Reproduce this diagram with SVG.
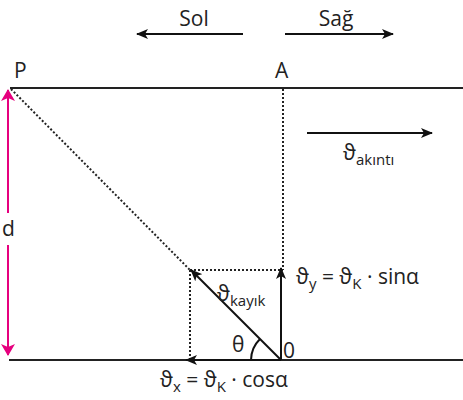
<svg xmlns="http://www.w3.org/2000/svg" width="463" height="400" viewBox="0 0 463 400">
<style>
text{font-family:"Open Sans","DejaVu Sans",sans-serif;fill:#222;font-size:21px}
.sub{font-size:15px}
.bank{stroke:#222;stroke-width:2;fill:none}
.dot{stroke:#222;stroke-width:2;stroke-dasharray:2 2;fill:none}
.vec{stroke:#111;stroke-width:2;fill:none}
</style>
<defs>
<marker id="ah" viewBox="0 0 12 10" refX="11" refY="5" markerWidth="12" markerHeight="10" markerUnits="userSpaceOnUse" orient="auto"><path d="M0,0 L12,5 L0,10 L3,5 Z" fill="#111"/></marker>
<marker id="am" viewBox="0 0 12 14" refX="11" refY="7" markerWidth="12" markerHeight="14" markerUnits="userSpaceOnUse" orient="auto"><path d="M0,0 L12,7 L0,14 L3,7 Z" fill="#e6007e"/></marker>
</defs>
<g id="banks">
<line class="bank" x1="10" y1="88" x2="463" y2="88"/>
<line class="bank" x1="9" y1="360" x2="463" y2="360"/>
</g>
<g id="directions">
<line class="vec" x1="243" y1="34" x2="137" y2="34" marker-end="url(#ah)"/>
<text x="194" y="26" text-anchor="middle">Sol</text>
<line class="vec" x1="285" y1="34" x2="393" y2="34" marker-end="url(#ah)"/>
<text x="336" y="26" text-anchor="middle">Sağ</text>
</g>
<g id="labels">
<text x="14" y="78">P</text>
<text x="275" y="78">A</text>
<text x="283" y="358">0</text>
<text x="232" y="352">θ</text>
</g>
<g id="connectors">
<line class="dot" x1="11" y1="89" x2="190" y2="270"/>
<line class="dot" x1="283" y1="89" x2="283" y2="270"/>
<line class="dot" x1="190" y1="270" x2="283" y2="270"/>
<line class="dot" x1="190" y1="270" x2="190" y2="359"/>
<line class="vec" x1="281" y1="360" x2="191" y2="270" marker-end="url(#ah)"/>
<line class="vec" x1="281" y1="360" x2="281" y2="268" marker-end="url(#ah)"/>
<line class="vec" stroke-width="3" x1="281" y1="360" x2="186" y2="360" marker-end="url(#ah)"/>
<path class="vec" stroke-width="2" d="M251,360 A30,30 0 0 1 260,339"/>
<line stroke="#e6007e" stroke-width="2" x1="8" y1="213" x2="8" y2="90" marker-end="url(#am)"/>
<line stroke="#e6007e" stroke-width="2" x1="8" y1="245" x2="8" y2="355" marker-end="url(#am)"/>
<line class="vec" x1="307" y1="133" x2="432" y2="133" marker-end="url(#ah)"/>
</g>
<g id="vector-labels">
<text x="2" y="236">d</text>
<text x="343" y="160">ϑ<tspan class="sub" dy="5">akıntı</tspan></text>
<text x="217" y="301">ϑ<tspan class="sub" dy="5">kayık</tspan></text>
<text x="296" y="284">ϑ<tspan class="sub" dy="5">y</tspan><tspan dy="-5"> = ϑ</tspan><tspan class="sub" dy="5">K</tspan><tspan dy="-5"> · sinα</tspan></text>
<text x="160" y="387">ϑ<tspan class="sub" dy="5">x</tspan><tspan dy="-5"> = ϑ</tspan><tspan class="sub" dy="5">K</tspan><tspan dy="-5"> · cosα</tspan></text>
</g>
</svg>
